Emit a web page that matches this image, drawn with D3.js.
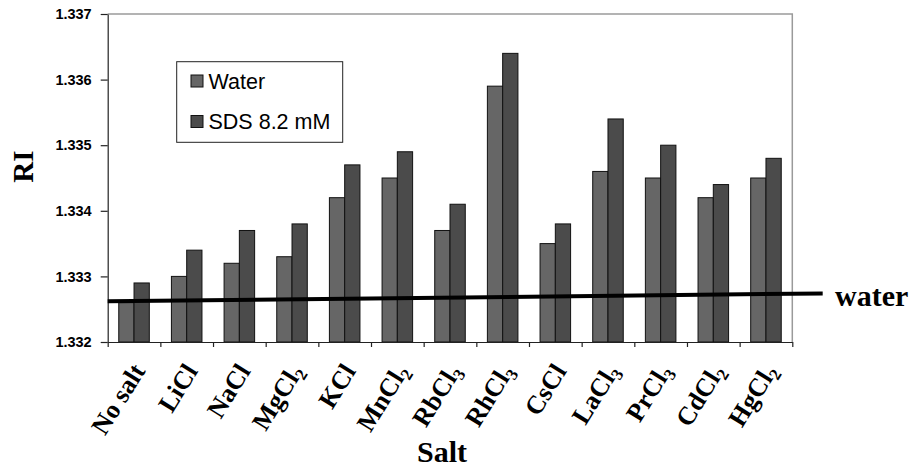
<!DOCTYPE html>
<html><head><meta charset="utf-8">
<script src="https://cdn.jsdelivr.net/npm/d3@7"></script>
<style>
html,body{margin:0;padding:0;background:#fff;}
svg{display:block;}
</style></head>
<body>
<svg id="chart" width="911" height="467"></svg>
<script>
const categories = ["No salt","LiCl","NaCl","MgCl2","KCl","MnCl2","RbCl3","RhCl3","CsCl","LaCl3","PrCl3","CdCl2","HgCl2"];
const seriesNames = ["Water","SDS 8.2 mM"];
const waterValues = [1.3326,1.3330,1.3332,1.3333,1.3342,1.3345,1.3337,1.3359,1.3335,1.3346,1.3345,1.3342,1.3345];
const sdsValues   = [1.3329,1.3334,1.3337,1.3338,1.3347,1.3349,1.3341,1.3364,1.3338,1.3354,1.3350,1.3344,1.3348];
const yTicks = [1.332,1.333,1.334,1.335,1.336,1.337];
const waterLineValues = [1.33262,1.33274];
const waterLineLabel = "water";
const xTitle = "Salt", yTitle = "RI";

const svg = d3.select("#chart");
const L = 107.7, R = 792.3, T = 14, B = 342;
const colors = ["#666666","#4b4b4b"];

const y = d3.scaleLinear().domain([1.332,1.337]).range([B,T]);
const x = d3.scaleBand().domain(categories).range([L,R]).paddingInner(0.42).paddingOuter(0.21);
const xs = d3.scaleBand().domain(seriesNames).range([0,x.bandwidth()]);
const xb = d3.scaleLinear().domain([0,categories.length]).range([L,R]);

// frame top/right
svg.append("path").attr("d",`M${L},${T}H${R}V${B}`).attr("fill","none").attr("stroke","#9a9a9a").attr("stroke-width",1.5);

// bars
const rows = categories.map((c,i)=>({c, vals:[waterValues[i],sdsValues[i]]}));
const g = svg.append("g");
rows.forEach(r=>{
  r.vals.forEach((v,j)=>{
    g.append("rect")
      .attr("x", x(r.c)+xs(seriesNames[j]))
      .attr("y", y(v))
      .attr("width", xs.bandwidth())
      .attr("height", y(1.332)-y(v))
      .attr("fill", colors[j]).attr("stroke","#111").attr("stroke-width",1);
  });
});

// y axis
const ya = svg.append("g").attr("transform",`translate(${L},0)`)
  .call(d3.axisLeft(y).tickValues(yTicks).tickFormat(d3.format(".3f")).tickSize(7).tickPadding(9).tickSizeOuter(0));
ya.selectAll("text").attr("font-family","'Liberation Sans', Arial, sans-serif").attr("font-weight","bold").attr("font-size",14.5).attr("fill","#000");
ya.selectAll("line,path").attr("stroke","#222").attr("stroke-width",1.2);

// x axis
const xa = svg.append("g").attr("transform",`translate(0,${B})`)
  .call(d3.axisBottom(xb).tickValues(d3.range(categories.length+1)).tickFormat("").tickSize(5).tickSizeOuter(0));
xa.selectAll("line,path").attr("stroke","#222").attr("stroke-width",1.2);

// x labels with subscripts
categories.forEach(c=>{
  const m = c.match(/^(.*?)(\d+)$/);
  const cx = x(c)+x.bandwidth()/2 + 12;
  const t = svg.append("text")
    .attr("transform",`translate(${cx},371) rotate(-58)`)
    .attr("text-anchor","end")
    .attr("font-family","'Liberation Serif','Times New Roman',serif")
    .attr("font-weight","bold").attr("font-size",26).attr("fill","#000");
  if(m){
    t.append("tspan").text(m[1]);
    t.append("tspan").attr("font-size",17).attr("dy","0.3em").text(m[2]);
  } else t.text(c);
});

// water line
svg.append("line")
  .attr("x1",L).attr("y1",y(waterLineValues[0]))
  .attr("x2",822.7).attr("y2",y(waterLineValues[1]))
  .attr("stroke","#000").attr("stroke-width",4);
svg.append("text").attr("x",835).attr("y",306)
  .attr("font-family","'Liberation Serif','Times New Roman',serif")
  .attr("font-weight","bold").attr("font-size",30).text(waterLineLabel);

// titles
svg.append("text").attr("x",442).attr("y",462).attr("text-anchor","middle")
  .attr("font-family","'Liberation Serif','Times New Roman',serif")
  .attr("font-weight","bold").attr("font-size",30).text(xTitle);
svg.append("text").attr("transform","translate(33,166.7) rotate(-90)").attr("text-anchor","middle")
  .attr("font-family","'Liberation Serif','Times New Roman',serif")
  .attr("font-weight","bold").attr("font-size",29).text(yTitle);

// legend
const lg = svg.append("g");
lg.append("rect").attr("x",176.7).attr("y",61.7).attr("width",166).attr("height",80.6)
  .attr("fill","#fff").attr("stroke","#222").attr("stroke-width",1);
seriesNames.forEach((s,j)=>{
  const cy = 81 + j*40.5;
  lg.append("rect").attr("x",191).attr("y",cy-6).attr("width",12).attr("height",12)
    .attr("fill",colors[j]).attr("stroke","#111").attr("stroke-width",1);
  lg.append("text").attr("x",208.5).attr("y",cy+7.5)
    .attr("font-family","'Liberation Sans', Arial, sans-serif").attr("font-size",21.5).attr("fill","#000").text(s);
});
</script>
</body></html>
